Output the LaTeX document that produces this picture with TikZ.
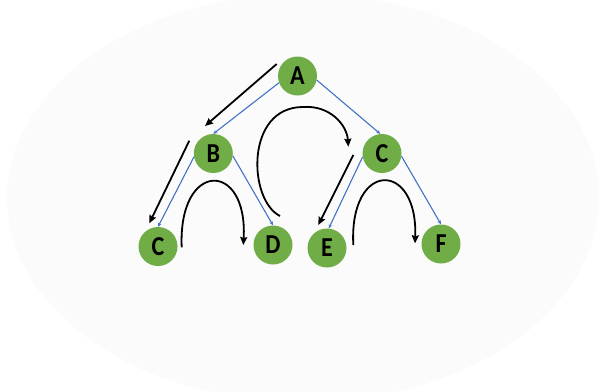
\documentclass[tikz,border=0pt]{standalone}
\usepackage{fontspec}
\setmainfont{Carlito}
\usetikzlibrary{arrows.meta}
\definecolor{nodegreen}{HTML}{70AD47}
\definecolor{edgeblue}{HTML}{4472C4}
\definecolor{bggray}{HTML}{FBFBFB}
\newcommand{\talltext}[1]{\scalebox{1}[1.14]{#1}}
\begin{document}
\begin{tikzpicture}[x=1pt,y=-1pt,
  treenode/.style={circle,fill=nodegreen,minimum size=39pt,inner sep=0pt,
    font=\bfseries\fontsize{24}{24}\selectfont},
  treeedge/.style={edgeblue,line width=1.1pt,-{Stealth[length=4pt,width=3.5pt]}},
  walk/.style={black,line width=1.8pt,-{Stealth[length=8pt,width=7pt,inset=1pt]}}]
\useasboundingbox (0,0) rectangle (601,391);
\fill[white] (0,0) rectangle (601,391);
\fill[bggray] (303,198) ellipse [x radius=296pt, y radius=204pt];

% nodes
\node[treenode] (nA)  at (297.5,76) {\talltext{A}};
\node[treenode] (nB)  at (213.3,153.5) {\talltext{B}};
\node[treenode] (nC)  at (382,153.5) {\talltext{C}};
\node[treenode] (nCl) at (158,246.5) {\talltext{C}};
\node[treenode] (nD)  at (273,245) {\talltext{D}};
\node[treenode] (nE)  at (327,248) {\talltext{E}};
\node[treenode] (nF)  at (441,244) {\talltext{F}};

% tree edges
\draw[treeedge] (nA.200) -- (nB.north);
\draw[treeedge] (nA.348) -- (nC.95);
\draw[treeedge] (nB.190) -- (nCl.north);
\draw[treeedge] (nB.353) -- (nD.north);
\draw[treeedge] (nC.190) -- (nE.85);
\draw[treeedge] (nC.352) -- (nF.north);

% traversal arrows
\coordinate (w1s) at (276.7,64);
\coordinate (w1e) at (205,126);
\coordinate (w2s) at (189.3,140.7);
\coordinate (w2e) at (149.3,223.3);
\coordinate (w3s) at (181.7,247.3);
\coordinate (w3e) at (243.3,245);
\coordinate (w4s) at (280,216);
\coordinate (w4t) at (303,107);
\coordinate (w4e) at (348.3,146.7);
\coordinate (w5s) at (353.3,155);
\coordinate (w5e) at (318.3,225);
\coordinate (w6s) at (353.3,245);
\coordinate (w6e) at (415,243.3);

\draw[walk] (w1s) -- (w1e);
\draw[walk] (w2s) -- (w2e);
\draw[walk] (w3s) .. controls (178,160) and (248,160) .. (w3e);
\draw[walk] (w4s) .. controls (248,200) and (245,107) .. (w4t)
               .. controls (330,105) and (347,125) .. (w4e);
\draw[walk] (w5s) -- (w5e);
\draw[walk] (w6s) .. controls (349,160) and (418,160) .. (w6e);
\end{tikzpicture}
\end{document}
